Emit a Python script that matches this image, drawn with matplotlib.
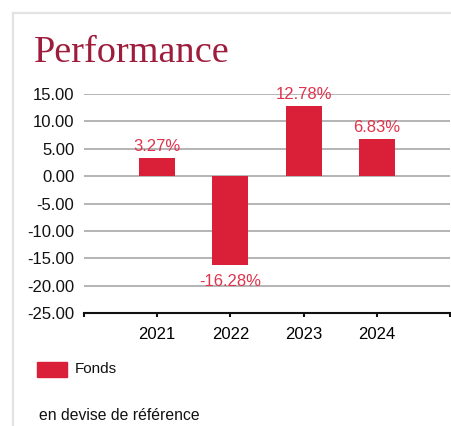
import matplotlib.pyplot as plt
from matplotlib.patches import Rectangle
from matplotlib.lines import Line2D

years = ['2021', '2022', '2023', '2024']
fonds = [3.27, -16.28, 12.78, 6.83]
y_ticks = [15, 10, 5, 0, -5, -10, -15, -20, -25]

bar_color = '#d92038'
label_color = '#e0334c'
title_color = '#9e1c3c'

plt.rcParams['font.family'] = ['Liberation Sans', 'DejaVu Sans']

fig = plt.figure(figsize=(4.52, 4.26), dpi=100)
W, H = 452, 426

# card border (left + top)
fig.add_artist(Line2D([13 / W, 13 / W], [0, 1 - 13 / H], color='#e3e3e3', lw=1.6))
fig.add_artist(Line2D([13 / W, 1], [1 - 13 / H, 1 - 13 / H], color='#e3e3e3', lw=1.6))

fig.text(34 / W, 1 - 62 / H, 'Performance', family=['Liberation Serif', 'DejaVu Serif'],
         fontsize=27.5, color=title_color, va='baseline', ha='left')

ax = fig.add_axes([84 / W, 1 - 313 / H, (450 - 84) / W, (313 - 94) / H])
x = list(range(len(years)))
ax.bar(x, fonds, width=0.49, color=bar_color, zorder=3)

ax.set_xlim(-1, 4)
ax.set_ylim(-25, 15)
ax.set_yticks(y_ticks)
ax.set_yticklabels([f'{v:.2f}' for v in y_ticks], fontsize=12)
ax.tick_params(axis='y', length=0, pad=7, labelcolor='#111111')
ax.set_xticks([-1, 0, 1, 2, 3, 4])
ax.set_xticklabels([''] + years + [''], fontsize=12)
ax.tick_params(axis='x', length=3, width=1.5, direction='out', pad=7, color='#111111')

for v in y_ticks[:-1]:
    ax.axhline(v, color='#a8a8a8', lw=1.2, zorder=1)

for s in ['top', 'right', 'left']:
    ax.spines[s].set_visible(False)
ax.spines['bottom'].set_color('#111111')
ax.spines['bottom'].set_linewidth(1.5)

for xi, v in zip(x, fonds):
    if v >= 0:
        ax.annotate(f'{v:.2f}%', (xi, v), xytext=(0, 3), textcoords='offset points',
                    ha='center', va='bottom', color=label_color, fontsize=12, zorder=4)
    else:
        ax.annotate(f'{v:.2f}%', (xi, v), xytext=(0, -6), textcoords='offset points',
                    ha='center', va='top', color=label_color, fontsize=12, zorder=4)

# legend
fig.add_artist(Rectangle((37 / W, 1 - 377 / H), 30 / W, 15 / H, color=bar_color))
fig.text(75 / W, 1 - 369 / H, 'Fonds', fontsize=11, va='center', ha='left', color='#111111')

fig.text(39 / W, 1 - 415 / H, 'en devise de référence', fontsize=11.3, va='center',
         ha='left', color='#111111')

fig.savefig('out.png', dpi=100)
